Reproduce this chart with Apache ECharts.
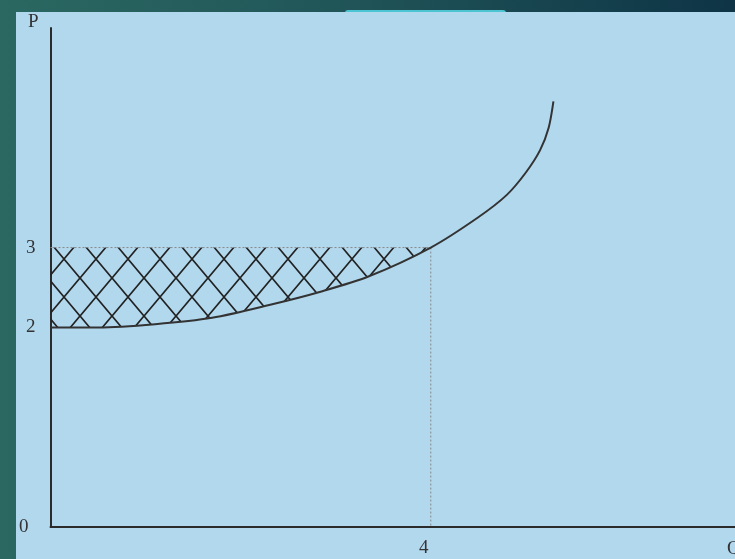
<!DOCTYPE html>
<html>
<head>
<meta charset="utf-8">
<script src="https://cdn.jsdelivr.net/npm/echarts@6/dist/echarts.min.js"></script>
<style>
html, body { margin: 0; padding: 0; width: 735px; height: 559px; overflow: hidden;
  background: linear-gradient(to right, #2b6861 0%, #215659 45%, #0e3446 100%); }
#tab { position: absolute; left: 345px; top: 10px; width: 161px; height: 4px;
  background: #4cc4d2; border-radius: 3px 3px 0 0; }
#layout { position: absolute; left: 16px; top: 12px; width: 719px; height: 547px; background: #b2d8ee; }
</style>
</head>
<body>
<div id="tab"></div>
<div id="layout"></div>
<script>
// supply curve (Q, P)
const supplyQ = [0, 0.5, 1.1, 1.7, 2.3, 2.85, 3.35, 4, 4.5, 4.8, 5.0, 5.15, 5.24, 5.29];
const supplyP = [2, 2.0, 2.04, 2.12, 2.28, 2.45, 2.64, 3, 3.38, 3.66, 3.94, 4.22, 4.5, 4.83];
const marketP = 3;
const marketQ = 4;
const yTickValues = [2, 3];
const xTickValues = [4];
const yMin = -0.5;   // where the Q axis sits (labelled 0)

const font = 'Liberation Serif';

// cross hatch tile for the surplus area
function hatch() {
    let w = 32, h = 38;
    let c = document.createElement('canvas');
    c.width = w; c.height = h;
    let g = c.getContext('2d');
    g.strokeStyle = '#222';
    g.lineWidth = 1.7;
    g.beginPath();
    g.moveTo(-w, -h); g.lineTo(2 * w, 2 * h);
    g.moveTo(2 * w, -h); g.lineTo(-w, 2 * h);
    g.stroke();
    return c;
}

let supply = supplyQ.map((q, i) => [q, supplyP[i]]);
let surplus = supply.filter(d => d[0] <= marketQ);

let myChart = echarts.init(document.getElementById('layout'));
let option = {
    animation: false,
    grid: { left: 34, top: 16, right: 0, bottom: 32 },
    xAxis: {
        type: 'value', min: 0, max: 7.2,
        splitLine: { show: false },
        axisTick: { show: false },
        axisLine: { onZero: false, lineStyle: { color: '#2b2b2b', width: 2 } },
        axisLabel: {
            customValues: xTickValues, margin: 12,
            fontFamily: font, fontSize: 19, color: '#333',
            padding: [0, 14, 0, 0]
        }
    },
    yAxis: {
        type: 'value', min: yMin, max: 5.75,
        splitLine: { show: false },
        axisTick: { show: false },
        axisLine: { onZero: false, lineStyle: { color: '#2b2b2b', width: 2 } },
        axisLabel: {
            customValues: [yMin].concat(yTickValues), margin: 15,
            fontFamily: font, fontSize: 19, color: '#333',
            formatter: function(v) { return v === yMin ? '{z|0}' : String(v); },
            rich: { z: { fontFamily: font, fontSize: 19, color: '#333', padding: [0, 7, 0, 0] } }
        }
    },
    graphic: [
        { type: 'text', left: 12, top: 1, style: { text: 'P', font: '19px "Liberation Serif"', fill: '#333' } },
        { type: 'text', left: 711, top: 528, style: { text: 'Q', font: '19px "Liberation Serif"', fill: '#333' } }
    ],
    series: [
        {
            type: 'line', name: 'surplus', data: surplus,
            smooth: 0.3, symbol: 'none', silent: true,
            lineStyle: { width: 0 },
            areaStyle: { origin: marketP, opacity: 1, color: { image: hatch(), repeat: 'repeat' } }
        },
        {
            type: 'line', name: 'price', data: [[0, marketP], [marketQ, marketP]],
            symbol: 'none', silent: true,
            lineStyle: { color: '#888', width: 1, type: [2, 2] }
        },
        {
            type: 'line', name: 'quantity', data: [[marketQ, marketP], [marketQ, yMin]],
            symbol: 'none', silent: true,
            lineStyle: { color: '#888', width: 1, type: [2, 2] }
        },
        {
            type: 'line', name: 'supply', data: supply,
            smooth: 0.3, symbol: 'none',
            lineStyle: { color: '#333', width: 2 }
        }
    ]
};
myChart.setOption(option);
</script>
</body>
</html>
